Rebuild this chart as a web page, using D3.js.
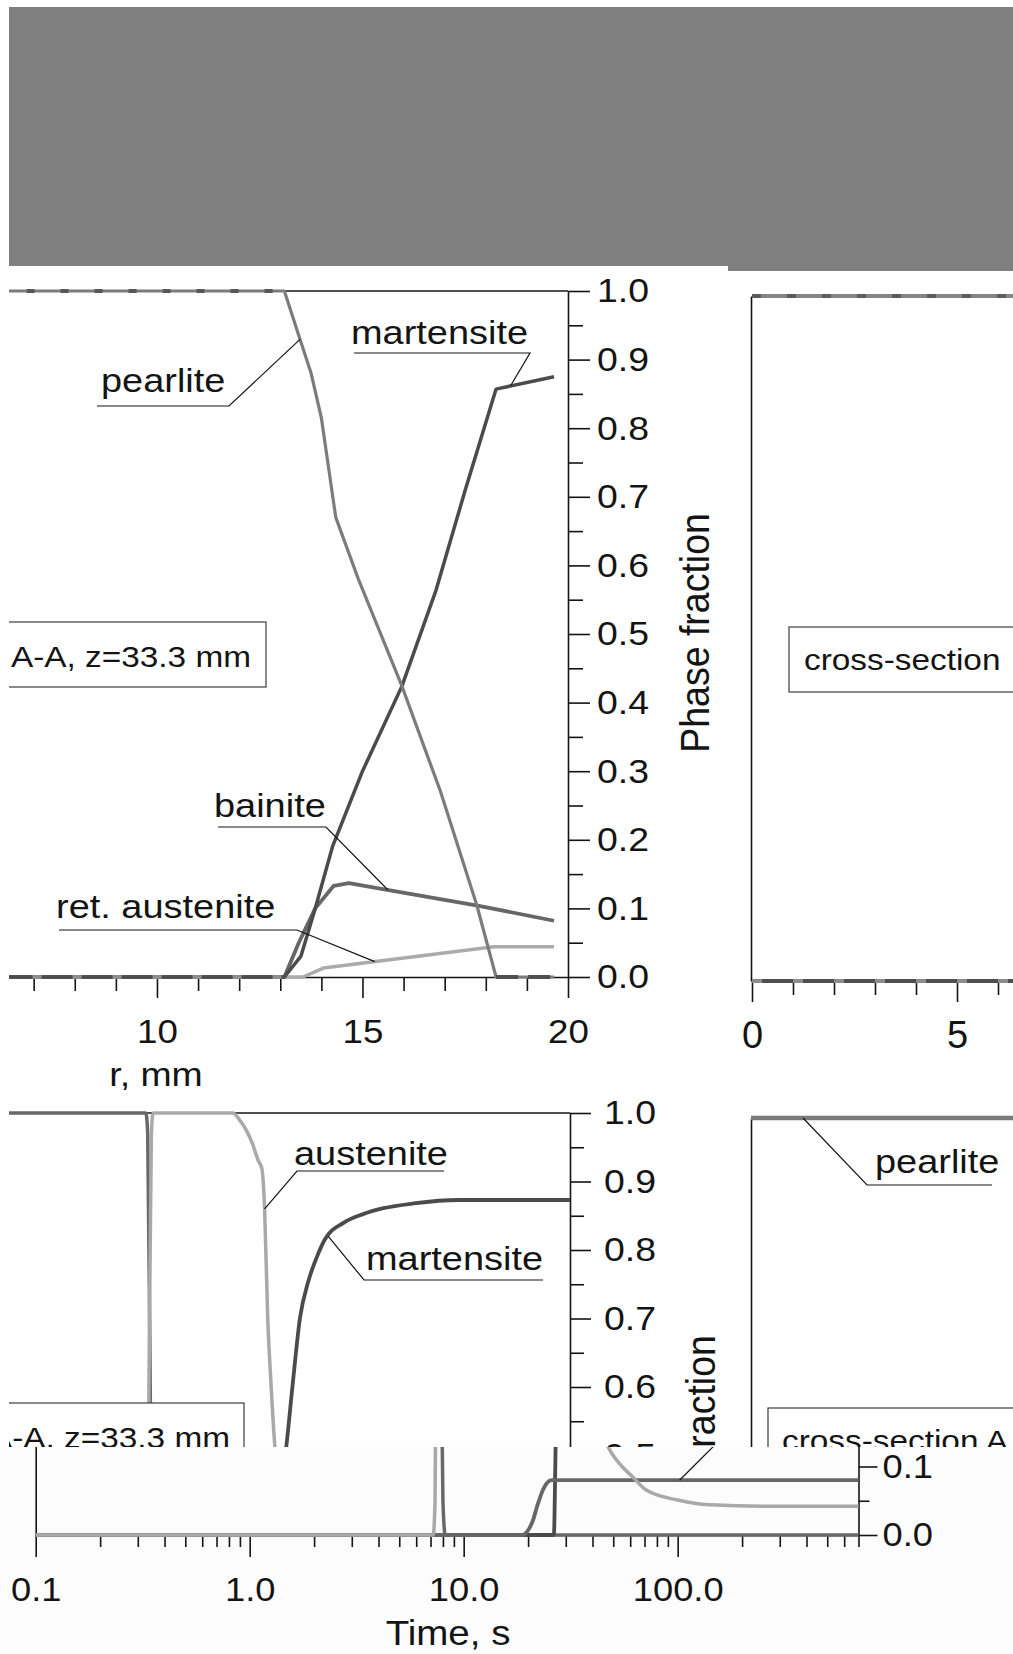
<!DOCTYPE html>
<html>
<head>
<meta charset="utf-8">
<title>Phase fractions</title>
<script src="https://cdn.jsdelivr.net/npm/d3@7/dist/d3.min.js"></script>
<style>
  html, body { margin: 0; padding: 0; background: #ffffff; }
  svg { display: block; }
</style>
</head>
<body>
<svg id="chart" width="1013" height="1654"></svg>
<script>
// ---------- phase fractions versus radius r (mm), section A-A, z = 33.3 mm ----------
const rPearlite    = [6, 13.1, 13.45, 13.75, 14.0, 14.35, 14.9, 15.96, 16.9, 17.78, 18.25, 19.66];
const pearliteByR  = [1, 1, 0.935, 0.88, 0.815, 0.67, 0.58, 0.424, 0.27, 0.105, 0, 0];
const rMartensite  = [6, 13.1, 13.5, 13.85, 14.27, 15.0, 15.96, 16.79, 17.5, 18.25, 19.66];
const martensiteByR = [0, 0, 0.03, 0.1, 0.19, 0.3, 0.424, 0.564, 0.71, 0.857, 0.875];
const rBainite     = [6, 13.1, 13.45, 13.85, 14.3, 14.67, 15.6, 17.8, 19.66];
const bainiteByR   = [0, 0, 0.05, 0.1, 0.133, 0.137, 0.127, 0.104, 0.082];
const rRetAust     = [6, 13.55, 14.05, 18.2, 19.66];
const retAustByR   = [0, 0, 0.013, 0.044, 0.044];

// ---------- neighbouring cross-section, near the axis ----------
const rCore         = [0, 6.5];
const pearliteCore  = [1, 1];
const othersCore    = [0, 0];

// ---------- phase fractions versus time (s) ----------
const tPearlite    = [0.1, 7.3, 7.45, 7.7, 8.0, 8.2, 700];
const pearliteByT  = [1, 1, 0.97, 0.5, 0.05, 0, 0];
const tAustenite   = [0.1, 7.2, 7.35, 7.55, 7.75, 7.9, 18.6, 20, 21.5, 23, 24.5, 25.4, 26.2, 27.1, 28, 29.3, 30.5, 33, 35.6, 38.3, 42, 48, 55, 61.5, 71, 100, 141, 250, 700];
const austeniteByT = [0, 0, 0.05, 0.6, 0.97, 1, 1, 0.99, 0.975, 0.955, 0.93, 0.92, 0.86, 0.70, 0.61, 0.51, 0.45, 0.36, 0.29, 0.22, 0.17, 0.125, 0.1, 0.085, 0.066, 0.051, 0.044, 0.042, 0.042];
const tMartensite  = [0.1, 26.4, 26.8, 27.1, 28, 29.3, 33, 35.6, 38.3, 42, 46, 50, 61.5, 75, 94, 130, 212, 700];
const martensiteByT = [0, 0, 0.1, 0.2, 0.3, 0.4, 0.51, 0.61, 0.70, 0.755, 0.79, 0.815, 0.84, 0.852, 0.861, 0.868, 0.873, 0.873];
const tBainite     = [0.1, 18.7, 19.8, 21, 22.2, 23.4, 24.5, 25.8, 700];
const bainiteByT   = [0, 0, 0.005, 0.02, 0.045, 0.065, 0.076, 0.08, 0.08];
const tCore        = [0.1, 2];
const pearliteCoreT = [1, 1];

// ---------- tick values ----------
const fractionMajor = d3.range(0, 11).map(i => i / 10);
const fractionMinor = d3.range(0, 10).map(i => i / 10 + 0.05);
const upperMajor = [0.5, 0.6, 0.7, 0.8, 0.9, 1.0];
const upperMinor = [0.55, 0.65, 0.75, 0.85, 0.95];
const rMajor = [10, 15, 20];
const rMinor = [7, 8, 9, 11, 12, 13, 14, 16, 17, 18, 19];
const coreMajor = [0, 5];
const coreMinor = [1, 2, 3, 4, 6];
const timeMajor = [0.1, 1, 10, 100];
const timeMinor = [0.2, 0.3, 0.4, 0.5, 0.6, 0.7, 0.8, 0.9, 2, 3, 4, 5, 6, 7, 8, 9,
                   20, 30, 40, 50, 60, 70, 80, 90, 200, 300, 400, 500, 600, 700];
const stripMajor = [0, 0.1];
const stripMinor = [0.05];

// ---------- drawing ----------
const FONT = '"Liberation Sans", Arial, Helvetica, sans-serif';
const INK = "#141414";
const COL = { pearlite: "#7c7c7c", martensite: "#4b4b4b", bainite: "#676767", retAust: "#ababab",
              pearliteT: "#686868", austeniteT: "#a9a9a9" };
const svg = d3.select("#chart");
const defs = svg.append("defs");

function clip(id, x, y, w, h) {
  defs.append("clipPath").attr("id", id).append("rect")
    .attr("x", x).attr("y", y).attr("width", w).attr("height", h);
  return `url(#${id})`;
}

function label(g, x, y, s, size, sx, anchor = "start") {
  return g.append("text")
    .attr("transform", `translate(${x},${y}) scale(${sx},1)`)
    .attr("font-family", FONT).attr("font-size", size).attr("fill", INK)
    .attr("text-anchor", anchor).text(s);
}

function vlabel(g, x, y, s, size, sx) {
  return g.append("text")
    .attr("transform", `translate(${x},${y}) scale(${sx},1) rotate(-90)`)
    .attr("font-family", FONT).attr("font-size", size).attr("fill", INK)
    .attr("text-anchor", "middle").text(s);
}

function styleAxis(sel, size, sx) {
  sel.selectAll("path, line").attr("stroke", INK).attr("stroke-width", 1.6);
  sel.selectAll("text").each(function () {
    const t = d3.select(this);
    const x = +(t.attr("x") || 0);
    t.attr("x", null).attr("transform", `translate(${x},0) scale(${sx},1)`);
  }).attr("font-family", FONT).attr("font-size", size).attr("fill", INK);
}

// axis with long labelled ticks and short unlabelled ones
function tickAxis(g, axisFn, scale, at, o) {
  const gm = g.append("g").attr("transform", at)
    .call(axisFn(scale).tickValues(o.minor).tickSize(o.minorSize).tickFormat("").tickSizeOuter(0));
  gm.select(".domain").remove();
  styleAxis(gm, o.font, o.sx);
  const gM = g.append("g").attr("transform", at)
    .call(axisFn(scale).tickValues(o.major).tickSize(o.majorSize).tickPadding(o.pad)
      .tickFormat(o.fmt).tickSizeOuter(0));
  styleAxis(gM, o.font, o.sx);
  return gM;
}

function plainAxis(g, axisFn, scale, at) {
  const a = g.append("g").attr("transform", at)
    .call(axisFn(scale).tickValues([]).tickSizeOuter(0));
  styleAxis(a, 10, 1);
  return a;
}

function runsAt(pts, val) {
  const out = []; let cur = [];
  pts.forEach(p => {
    if (p[1] === val) cur.push(p);
    else { if (cur.length > 1) out.push(cur); cur = []; }
  });
  if (cur.length > 1) out.push(cur);
  return out;
}

function drawLine(g, line, pts, color, width, dash) {
  const p = g.append("path").datum(pts).attr("d", line)
    .attr("fill", "none").attr("stroke", color).attr("stroke-width", width)
    .attr("stroke-linejoin", "round");
  if (dash) p.attr("stroke-dasharray", dash);
  return p;
}

function leader(g, pts) {
  g.append("path").attr("d", d3.line()(pts)).attr("fill", "none")
    .attr("stroke", INK).attr("stroke-width", 1.2);
}

function box(g, x, y, w, h) {
  g.append("rect").attr("x", x).attr("y", y).attr("width", w).attr("height", h)
    .attr("fill", "#ffffff").attr("stroke", "#3c3c3c").attr("stroke-width", 1.2);
}

// ===== grey banner =====
const banner = svg.append("g").attr("fill", "#808080");
banner.append("rect").attr("x", 9).attr("y", 7).attr("width", 1004).attr("height", 259);
banner.append("rect").attr("x", 728).attr("y", 265).attr("width", 285).attr("height", 6);

// ===== radial profile, section A-A =====
const gTL = svg.append("g").attr("clip-path", clip("clipTop", 9, 0, 1004, 1090));
const xR = d3.scaleLinear([6.4, 20], [9, 568]);
const yTL = d3.scaleLinear([0, 1], [977, 291]);
const lineR = d3.line().x(d => xR(d[0])).y(d => yTL(d[1]));

gTL.append("line").attr("x1", xR(6.4)).attr("x2", xR(20)).attr("y1", yTL(1)).attr("y2", yTL(1))
  .attr("stroke", INK).attr("stroke-width", 1.6);
tickAxis(gTL, d3.axisBottom, xR, `translate(0,${yTL(0)})`,
  { major: rMajor, minor: rMinor, majorSize: 21, minorSize: 14, pad: 21, fmt: d3.format("d"), font: 34, sx: 1.08 });
tickAxis(gTL, d3.axisRight, yTL, `translate(${xR(20)},0)`,
  { major: fractionMajor, minor: fractionMinor, majorSize: 22, minorSize: 15, pad: 7, fmt: d3.format(".1f"), font: 34, sx: 1.1 });

const pR = d3.zip(rPearlite, pearliteByR);
const mR = d3.zip(rMartensite, martensiteByR);
const bR = d3.zip(rBainite, bainiteByR);
const aR = d3.zip(rRetAust, retAustByR);
drawLine(gTL, lineR, aR, COL.retAust, 3.5);
drawLine(gTL, lineR, bR, COL.bainite, 3.8);
drawLine(gTL, lineR, mR, COL.martensite, 3.5);
drawLine(gTL, lineR, pR, COL.pearlite, 3.2);
// overlapping curves along 1.0 and 0.0 give a broken, two-tone look
runsAt(pR, 1).forEach(run => drawLine(gTL, lineR, run, "#575757", 4, "8,26"));
runsAt(mR, 0).forEach(run => drawLine(gTL, lineR, run, "#8e8e8e", 4, "9,31"));
runsAt(pR, 0).forEach(run => drawLine(gTL, lineR, run, "#505050", 4, "22,10"));

const atR = (xs, vs, r) => [xR(r), yTL(d3.scaleLinear(xs, vs)(r))];
leader(gTL, [atR(rPearlite, pearliteByR, 13.48), [229, 406], [97, 406]]);
label(gTL, 101, 392, "pearlite", 33, 1.15);
leader(gTL, [atR(rMartensite, martensiteByR, 18.6), [530, 353], [354, 353]]);
label(gTL, 351, 344, "martensite", 33, 1.15);
leader(gTL, [atR(rBainite, bainiteByR, 15.62), [326, 827], [218, 827]]);
label(gTL, 214, 817, "bainite", 33, 1.15);
leader(gTL, [atR(rRetAust, retAustByR, 15.3), [297, 930], [59, 930]]);
label(gTL, 56, 918, "ret. austenite", 33, 1.15);

box(gTL, -30, 622, 296, 65);
label(gTL, 251, 667, "A-A, z=33.3 mm", 29, 1.15, "end");
label(gTL, 156, 1086, "r, mm", 34, 1.1, "middle");
vlabel(gTL, 709, 633, "Phase fraction", 37.5, 1.08);

// ===== neighbouring section near the axis =====
const xTR = d3.scaleLinear([0, 6.5], [752, 1018.5]);
const yTR = d3.scaleLinear([0, 1], [981, 296]);
const lineTR = d3.line().x(d => xTR(d[0])).y(d => yTR(d[1]));
plainAxis(gTL, d3.axisLeft, yTR, `translate(751,0)`);
tickAxis(gTL, d3.axisBottom, xTR, `translate(0,${yTR(0)})`,
  { major: coreMajor, minor: coreMinor, majorSize: 21, minorSize: 14, pad: 19, fmt: d3.format("d"), font: 38, sx: 1.0 });
const oC = d3.zip(rCore, othersCore);
const pC = d3.zip(rCore, pearliteCore);
drawLine(gTL, lineTR, oC, "#4e4e4e", 4);
drawLine(gTL, lineTR, oC, "#8c8c8c", 4, "10,31");
drawLine(gTL, lineTR, pC, "#858585", 4);
drawLine(gTL, lineTR, pC, "#5c5c5c", 4, "9,26");
box(gTL, 789, 627, 260, 65);
label(gTL, 804, 670, "cross-section", 29, 1.15);

// ===== time history, upper part =====
const gMid = svg.append("g").attr("clip-path", clip("clipMid", 9, 1090, 1004, 357));
const xT1 = d3.scaleLog([0.1, 700], [-253, 570]);
const yBL = d3.scaleLinear([0, 1], [1798, 1113]);
const lineT1 = d3.line().x(d => xT1(d[0])).y(d => yBL(d[1])).curve(d3.curveMonotoneX);

gMid.append("line").attr("x1", xT1(0.1)).attr("x2", xT1(700)).attr("y1", yBL(1)).attr("y2", yBL(1))
  .attr("stroke", INK).attr("stroke-width", 1.6);
tickAxis(gMid, d3.axisRight, yBL, `translate(${xT1(700)},0)`,
  { major: upperMajor, minor: upperMinor, majorSize: 21, minorSize: 14, pad: 13, fmt: d3.format(".1f"), font: 34, sx: 1.1 });

const pT = d3.zip(tPearlite, pearliteByT);
const mT = d3.zip(tMartensite, martensiteByT);
const bT = d3.zip(tBainite, bainiteByT);
const aT = d3.zip(tAustenite, austeniteByT);
function timeSeries(g, line) {
  drawLine(g, line, pT, COL.pearliteT, 3.5);
  drawLine(g, line, mT, COL.martensite, 3.8);
  drawLine(g, line, bT, COL.bainite, 3.8);
  drawLine(g, line, aT, COL.austeniteT, 3.5);
}
timeSeries(gMid, lineT1);

const atT1 = (xs, vs, t) => [xT1(t), yBL(d3.scaleLog(xs, vs)(t))];
leader(gMid, [atT1(tAustenite, austeniteByT, 26.2), [297, 1171], [444, 1171]]);
label(gMid, 294, 1165, "austenite", 33, 1.15);
leader(gMid, [atT1(tMartensite, martensiteByT, 52), [364, 1280], [543, 1280]]);
label(gMid, 366, 1270, "martensite", 33, 1.15);

box(gMid, -30, 1403, 274, 65);
label(gMid, 230, 1448, "A-A, z=33.3 mm", 29, 1.15, "end");
vlabel(gMid, 715, 1455, "Phase fraction", 37.5, 1.08);

// core of the neighbouring section versus time
const xT2 = d3.scaleLog([0.1, 700], [751, 1574]);
const yBR = d3.scaleLinear([0, 1], [1803, 1118]);
const lineT2 = d3.line().x(d => xT2(d[0])).y(d => yBR(d[1]));
plainAxis(gMid, d3.axisLeft, yBR, `translate(751,0)`);
const pCT = d3.zip(tCore, pearliteCoreT);
drawLine(gMid, lineT2, pCT, "#7a7a7a", 4.5);
leader(gMid, [[xT2(0.175), yBR(d3.scaleLog(tCore, pearliteCoreT)(0.175))], [867, 1185], [992, 1185]]);
label(gMid, 875, 1173, "pearlite", 33, 1.15);
box(gMid, 768, 1408, 300, 65);
label(gMid, 782, 1451, "cross-section A", 29, 1.15);

// ===== time history, lower strip with the time axis =====
const gS = svg.append("g").attr("clip-path", clip("clipStrip", 0, 1447, 1013, 207));
gS.append("rect").attr("x", 0).attr("y", 1447).attr("width", 1013).attr("height", 207).attr("fill", "#fcfcfc");
const xS = d3.scaleLog([0.1, 700], [35.7, 858.5]);
const yS = d3.scaleLinear([0, 1], [1535, 850]);
const lineS = d3.line().x(d => xS(d[0])).y(d => yS(d[1])).curve(d3.curveMonotoneX);

plainAxis(gS, d3.axisLeft, yS, `translate(${xS(0.1)},0)`);
tickAxis(gS, d3.axisBottom, xS, `translate(0,${yS(0)})`,
  { major: timeMajor, minor: timeMinor, majorSize: 22, minorSize: 12, pad: 21, fmt: d3.format(".1f"), font: 33, sx: 1.1 });
tickAxis(gS, d3.axisRight, yS, `translate(${xS(700)},0)`,
  { major: stripMajor, minor: stripMinor, majorSize: 19, minorSize: 11, pad: 5, fmt: d3.format(".1f"), font: 33, sx: 1.1 });
timeSeries(gS, lineS);
leader(gS, [[xS(102), yS(d3.scaleLog(tBainite, bainiteByT)(102))], [xS(248), yS(0.2)]]);
label(gS, 448, 1645, "Time, s", 35, 1.1, "middle");
</script>
</body>
</html>
